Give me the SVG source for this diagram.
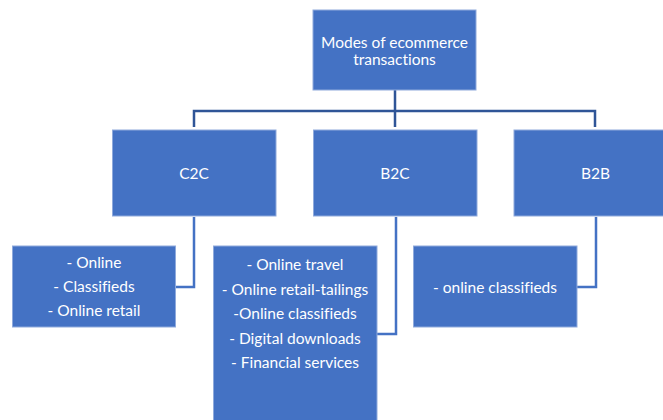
<svg xmlns="http://www.w3.org/2000/svg" width="663" height="420" viewBox="0 0 663 420">
<style>
.box{fill:#4472C4;stroke:#8FAADC;stroke-width:1}
.t{fill:#FFFFFF;font-family:Lato,"Open Sans","Liberation Sans",sans-serif;font-size:15.5px;text-anchor:middle;dominant-baseline:central;font-variant-ligatures:none}
.c1{fill:none;stroke:#2F5597;stroke-width:2.5}
.c2{fill:none;stroke:#4472C4;stroke-width:2.5}
</style>
<rect width="663" height="420" fill="#FFFFFF"/>
<g id="connectors">
<path class="c1" d="M395 90 V127 M194 127 V111 H595 V127"/>
<path class="c2" d="M176 287 H194 V217"/>
<path class="c2" d="M377 334 H396 V217"/>
<path class="c2" d="M577 287 H596 V217"/>
</g>
<g id="root">
<rect class="box" x="313" y="10" width="163" height="80"/>
<text class="t" x="394.5" y="42">Modes of ecommerce</text>
<text class="t" x="394.5" y="59">transactions</text>
</g>
<g id="c2c">
<rect class="box" x="112.5" y="130" width="163.5" height="86"/>
<text class="t" x="194" y="173">C2C</text>
</g>
<g id="b2c">
<rect class="box" x="313.5" y="130" width="163.5" height="86"/>
<text class="t" x="395" y="173">B2C</text>
</g>
<g id="b2b">
<rect class="box" x="514" y="130" width="163.5" height="86"/>
<text class="t" x="595.5" y="173">B2B</text>
</g>
<g id="c2c-items">
<rect class="box" x="12.5" y="246" width="163" height="81"/>
<text class="t" x="94" y="262">- Online</text>
<text class="t" x="94" y="286">- Classifieds</text>
<text class="t" x="94" y="310">- Online retail</text>
</g>
<g id="b2c-items">
<rect class="box" x="213.5" y="246" width="163.5" height="180"/>
<text class="t" x="295" y="264">- Online travel</text>
<text class="t" x="295" y="289">- Online retail-tailings</text>
<text class="t" x="295" y="313">-Online classifieds</text>
<text class="t" x="295" y="338">- Digital downloads</text>
<text class="t" x="295" y="362">- Financial services</text>
</g>
<g id="b2b-items">
<rect class="box" x="413.5" y="246" width="163.5" height="81"/>
<text class="t" x="495" y="287">- online classifieds</text>
</g>
</svg>
